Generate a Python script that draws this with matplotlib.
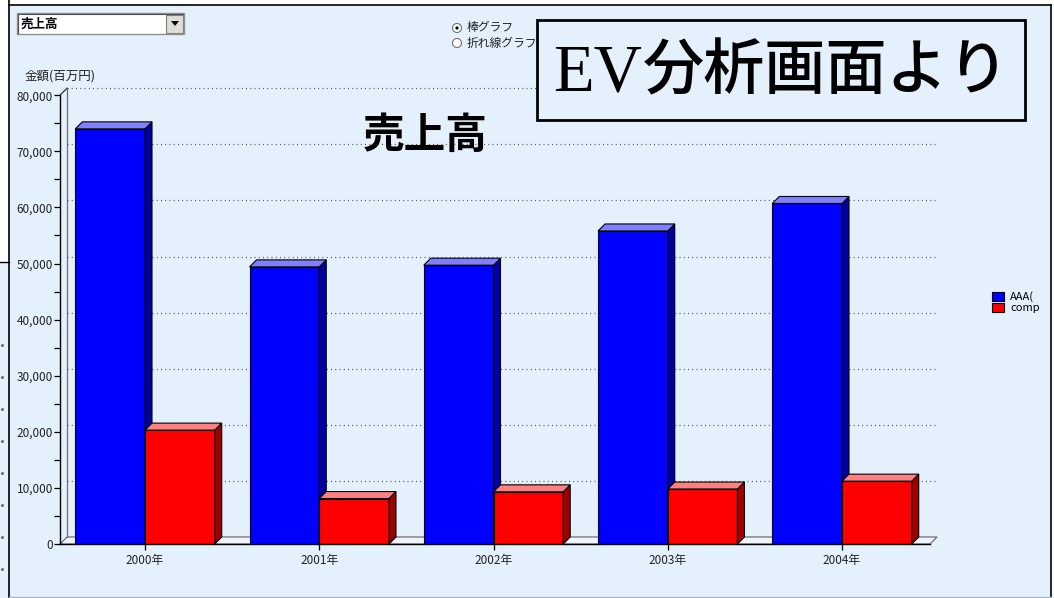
import numpy as np
import matplotlib.pyplot as plt
from matplotlib.patches import Rectangle, Polygon, Circle, Patch

plt.rcParams['font.family'] = ['Noto Sans CJK JP', 'DejaVu Sans']

# --- data --- #
years = ['2000年', '2001年', '2002年', '2003年', '2004年']
series_names = ['AAA(', 'comp']
sales_aaa = [74000, 49400, 49700, 55800, 60700]
sales_comp = [20300, 8100, 9300, 9800, 11200]
y_ticks = [0, 10000, 20000, 30000, 40000, 50000, 60000, 70000, 80000]

W, H = 1054, 598
bg = '#e4f0fc'

fig = plt.figure(figsize=(W / 100, H / 100), dpi=100)
fig.patch.set_facecolor('white')

# panel background (pixel coords, y down)
back = fig.add_axes([0, 0, 1, 1], zorder=0)
back.set_xlim(0, W)
back.set_ylim(H, 0)
back.axis('off')
back.add_patch(Rectangle((8, 5), 1043, 592, facecolor=bg, edgecolor='none'))
back.add_patch(Rectangle((0, 262), 8, H - 262, facecolor=bg, edgecolor='none'))
back.plot([8.5, 8.5], [0, H], color='black', lw=1.2)
back.plot([8.5, 1051], [5, 5], color='black', lw=1.2)
back.plot([1051, 1051], [5, H], color='black', lw=1.2)
back.plot([8.5, 1051], [597, 597], color='#a8b4c0', lw=1)
back.plot([0, 8.5], [262, 262], color='black', lw=1)
back.scatter([1.5] * 8, [345, 377, 409, 441, 473, 505, 537, 569], s=1.5, color='#777')

# --- chart --- #
px0, px1 = 60, 930
py0, py80 = 544, 95.2
ax = fig.add_axes([px0 / W, (H - py0) / H, (px1 - px0) / W, (py0 - py80) / H], zorder=1)
ax.patch.set_alpha(0)

cat_px = 174.25
xmin = (px0 - 145) / cat_px
xmax = (px1 - 145) / cat_px
ax.set_xlim(xmin, xmax)
ax.set_ylim(0, 80000)

# depth of the 3d look, 7 px each way
dx = 7 / cat_px
dy = 7 * 80000 / (py0 - py80)
w = 0.40

# back wall, floor and grid
ax.add_patch(Polygon([(xmin, 0), (xmax, 0), (xmax + dx, dy), (xmin + dx, dy)],
                     closed=True, facecolor='#eef4fa', edgecolor='#707070', lw=0.9,
                     clip_on=False, zorder=1))
ax.plot([xmin + dx, xmin + dx], [dy, 80000 + dy], color='#707070', lw=0.9, clip_on=False, zorder=1)
ax.plot([xmin, xmin + dx], [80000, 80000 + dy], color='#333', lw=0.9, clip_on=False, zorder=1)
for v in y_ticks[1:]:
    ax.plot([xmin + dx, xmax + dx], [v + dy, v + dy], color='#555',
            lw=0.9, ls=(0, (0.8, 2.6)), clip_on=False, zorder=1)


def bar3d(x0, v, front, side, top):
    ax.bar(x0, v, width=w, align='edge', color=front, edgecolor='black', lw=0.8, zorder=3)
    ax.add_patch(Polygon([(x0 + w, 0), (x0 + w, v), (x0 + w + dx, v + dy), (x0 + w + dx, dy)],
                         closed=True, facecolor=side, edgecolor='black', lw=0.8,
                         clip_on=False, zorder=3))
    ax.add_patch(Polygon([(x0, v), (x0 + w, v), (x0 + w + dx, v + dy), (x0 + dx, v + dy)],
                         closed=True, facecolor=top, edgecolor='black', lw=0.8,
                         clip_on=False, zorder=3))


xs = np.arange(len(years))
for i in xs:
    bar3d(i - w, sales_aaa[i], '#0000ff', '#0000a0', '#8080ff')
    bar3d(i, sales_comp[i], '#ff0000', '#a00000', '#ff8080')

ax.spines['top'].set_visible(False)
ax.spines['right'].set_visible(False)
ax.spines['left'].set_linewidth(1)
ax.spines['bottom'].set_linewidth(1)
ax.spines['left'].set_zorder(4)
ax.spines['bottom'].set_zorder(4)

ax.set_yticks(y_ticks)
ax.set_yticklabels([f'{v:,}' for v in y_ticks])
ax.set_yticks(np.arange(5000, 80000, 10000), minor=True)
ax.set_xticks(xs)
ax.set_xticklabels(years)
ax.tick_params(axis='y', which='both', direction='out', length=4, width=0.9,
               labelsize=8.5, labelcolor='#222', pad=1)
ax.tick_params(axis='x', direction='out', length=4, width=0.9,
               labelsize=8.5, labelcolor='#222', pad=3)

# --- overlay: title, controls, legend, note box --- #
top = fig.add_axes([0, 0, 1, 1], zorder=2)
top.set_xlim(0, W)
top.set_ylim(H, 0)
top.axis('off')

top.text(425, 136, '売上高', fontsize=30, fontweight='bold', ha='center', va='center')
top.text(25, 76, '金額(百万円)', fontsize=9, ha='left', va='center', color='#222')

# dropdown
top.add_patch(Rectangle((17, 13), 167, 21, facecolor='white', edgecolor='#909090', lw=1))
top.plot([18, 18, 183], [33, 14, 14], color='#505050', lw=0.8)
top.add_patch(Rectangle((166, 15), 17, 18, facecolor='#e0ddd6', edgecolor='#808080', lw=0.8))
top.add_patch(Polygon([(171, 21), (179, 21), (175, 26)], closed=True, facecolor='black'))
top.text(21, 24, '売上高', fontsize=9, fontweight='bold', ha='left', va='center')

# radio buttons
top.add_patch(Circle((457, 28), 4.5, facecolor='white', edgecolor='#707070', lw=0.8))
top.add_patch(Circle((457, 28), 1.6, facecolor='black', edgecolor='none'))
top.add_patch(Circle((457, 43), 4.5, facecolor='white', edgecolor='#707070', lw=0.8))
top.text(467, 28, '棒グラフ', fontsize=8.5, ha='left', va='center', color='#222')
top.text(467, 43, '折れ線グラフ', fontsize=8.5, ha='left', va='center', color='#222')

# note box
top.add_patch(Rectangle((537, 20), 488, 100, facecolor=bg, edgecolor='black', lw=2, zorder=5))
top.text(553, 74, 'EV', fontsize=48, family='Liberation Serif', ha='left', va='center', zorder=6)
top.text(643, 72, '分析画面より', fontsize=44, fontweight='medium', ha='left', va='center', zorder=6)

# legend
handles = [Patch(facecolor='#0000ff', edgecolor='black', lw=0.8),
           Patch(facecolor='#ff0000', edgecolor='black', lw=0.8)]
fig.legend(handles, series_names, loc='upper left', bbox_to_anchor=(986 / W, 1 - 286 / H),
           frameon=False, fontsize=8, handlelength=1.1, handleheight=0.9,
           handletextpad=0.6, labelspacing=0.05, borderpad=0)

fig.savefig('out.png', dpi=100, facecolor=fig.get_facecolor())
